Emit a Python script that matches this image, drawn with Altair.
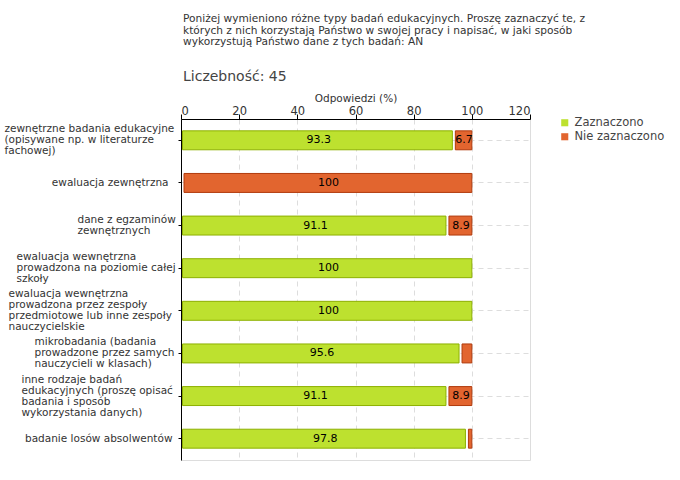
import altair as alt
import pandas as pd

categories = [
    "zewnętrzne badania edukacyjne\n(opisywane np. w literaturze\nfachowej)",
    "ewaluacja zewnętrzna",
    "dane z egzaminów\nzewnętrznych",
    "ewaluacja wewnętrzna\nprowadzona na poziomie całej\nszkoły",
    "ewaluacja wewnętrzna\nprowadzona przez zespoły\nprzedmiotowe lub inne zespoły\nnauczycielskie",
    "mikrobadania (badania\nprowadzone przez samych\nnauczycieli w klasach)",
    "inne rodzaje badań\nedukacyjnych (proszę opisać\nbadania i sposób\nwykorzystania danych)",
    "badanie losów absolwentów",
]
zaznaczono = [93.3, 0, 91.1, 100, 100, 95.6, 91.1, 97.8]
nie_zaznaczono = [6.7, 100, 8.9, 0, 0, 4.4, 8.9, 2.2]
series = ["Zaznaczono", "Nie zaznaczono"]
colors = ["#bde12f", "#e2652f"]
strokes = ["#8db000", "#b03a0c"]
x_ticks = [0, 10, 20, 30, 40, 50, 60, 70, 80, 90, 100, 110, 120]

# approximate pixel width of each multi-line label block (longest line), used so that
# lines inside a block are left-aligned while the block sits next to the axis
block_width = {
    "fachowej": 172,
    "egzaminów": 99,
    "szkoły": 160,
    "nauczycielskie": 168,
    "mikrobadania": 142,
    "inne rodzaje": 155,
}
# extra gap for the single-line labels
single_gap = {
    "ewaluacja zewnętrzna": 10,
    "badanie losów": 6,
}

rows = []
for c, z, n in zip(categories, zaznaczono, nie_zaznaczono):
    rows.append({"cat": c, "series": series[0], "value": z, "start": 0.0, "end": z})
    rows.append({"cat": c, "series": series[1], "value": n, "start": z, "end": z + n})
df = pd.DataFrame(rows)

FONT = "DejaVu Sans"
LH = 11
PAD = 2
NL = "length(split(datum.value, '\\n'))"
MULTI = NL + " > 1"

pad_conditions = [
    {"test": "indexof(datum.value, '%s') >= 0" % k, "value": w + PAD}
    for k, w in block_width.items()
] + [
    {"test": "indexof(datum.value, '%s') >= 0" % k, "value": g}
    for k, g in single_gap.items()
]

y_enc = alt.Y(
    "cat:N",
    sort=categories,
    title=None,
    scale=alt.Scale(paddingInner=0.555, paddingOuter=0.2775),
    axis=alt.Axis(
        labelExpr="split(datum.label, '\\n')",
        labelFont=FONT,
        labelFontSize=10.5,
        labelColor="#333333",
        labelLineHeight=LH,
        labelBaseline="middle",
        labelAlign={"condition": {"test": MULTI, "value": "left"}, "value": "right"},
        labelPadding={"condition": pad_conditions, "value": PAD},
        labelLimit=200,
        labelOffset={
            "condition": [
                {"test": NL + " == 4", "value": -1.5 * LH},
                {"test": NL + " == 3", "value": -1.0 * LH},
                {"test": NL + " == 2", "value": -0.5 * LH},
            ],
            "value": 0,
        },
        tickColor="black",
        tickSize=3,
        domainColor="black",
        grid=True,
        gridColor="#dddddd",
        gridDash=[5, 4],
        bandPosition=0.5,
    ),
)

x_scale = alt.Scale(domain=[0, 120], nice=False)
x_axis = alt.Axis(
    orient="top",
    values=x_ticks,
    title="Odpowiedzi (%)",
    titleFont=FONT,
    titleFontSize=10.5,
    titleFontWeight="normal",
    titleColor="#333333",
    titlePadding=2,
    labelExpr="datum.value % 20 == 0 ? datum.label : ''",
    labelFont=FONT,
    labelFontSize=11.5,
    labelColor="#333333",
    labelPadding=-2,
    tickColor={"condition": {"test": "datum.value % 20 != 0", "value": "#cc0000"}, "value": "black"},
    tickSize=5,
    domainColor="black",
    grid=True,
    gridColor="#dddddd",
    gridDash=[5, 4],
    gridOpacity={"condition": {"test": "datum.value % 20 != 0", "value": 0}, "value": 1},
)

base = alt.Chart(df)

green = base.transform_filter(
    (alt.datum.series == series[0]) & (alt.datum.value > 0)
).mark_bar(xOffset=1.5, strokeWidth=1, stroke=strokes[0]).encode(
    y=y_enc,
    x=alt.X("start:Q", scale=x_scale, axis=x_axis),
    x2="end:Q",
    color=alt.Color(
        "series:N",
        scale=alt.Scale(domain=series, range=colors),
        legend=alt.Legend(
            title=None,
            orient="none",
            legendX=378,
            legendY=-2,
            symbolType="square",
            symbolSize=50,
            symbolStrokeWidth=0,
            labelFont=FONT,
            labelFontSize=11.5,
            labelColor="#444444",
            rowPadding=1,
        ),
    ),
)

red = base.transform_filter(
    (alt.datum.series == series[1]) & (alt.datum.value > 0)
).mark_bar(xOffset=3, strokeWidth=1, stroke=strokes[1]).encode(
    y=alt.Y("cat:N", sort=categories),
    x=alt.X("start:Q", scale=x_scale),
    x2="end:Q",
    color=alt.Color("series:N", scale=alt.Scale(domain=series, range=colors)),
)

labels = base.transform_filter(alt.datum.value >= 5).transform_calculate(
    mid="(datum.start + datum.end) / 2"
).mark_text(font=FONT, fontSize=11, color="black", baseline="middle", dx=2).encode(
    y=alt.Y("cat:N", sort=categories),
    x=alt.X("mid:Q", scale=x_scale),
    text=alt.Text("value:Q", format=".1~f"),
)

chart = alt.layer(green, red, labels).properties(
    width=349,
    height=341,
    autosize=alt.AutoSizeParams(type="none"),
    padding={"left": 181, "top": 119, "right": 150, "bottom": 20},
    title=alt.TitleParams(
        text=[
            "Poniżej wymieniono różne typy badań edukacyjnych. Proszę zaznaczyć te, z",
            "których z nich korzystają Państwo w swojej pracy i napisać, w jaki sposób",
            "wykorzystują Państwo dane z tych badań:  AN",
        ],
        subtitle="Liczebność: 45",
        anchor="start",
        frame="group",
        dx=2,
        font=FONT,
        fontSize=10.6,
        fontWeight="normal",
        color="#333333",
        lineHeight=11.5,
        subtitleFont=FONT,
        subtitleFontSize=14,
        subtitleColor="#444444",
        subtitlePadding=22,
        offset=9,
    ),
).configure_view(stroke=None).configure(background="white")

chart.save("out.html", embed_options={"renderer": "svg", "actions": False})
